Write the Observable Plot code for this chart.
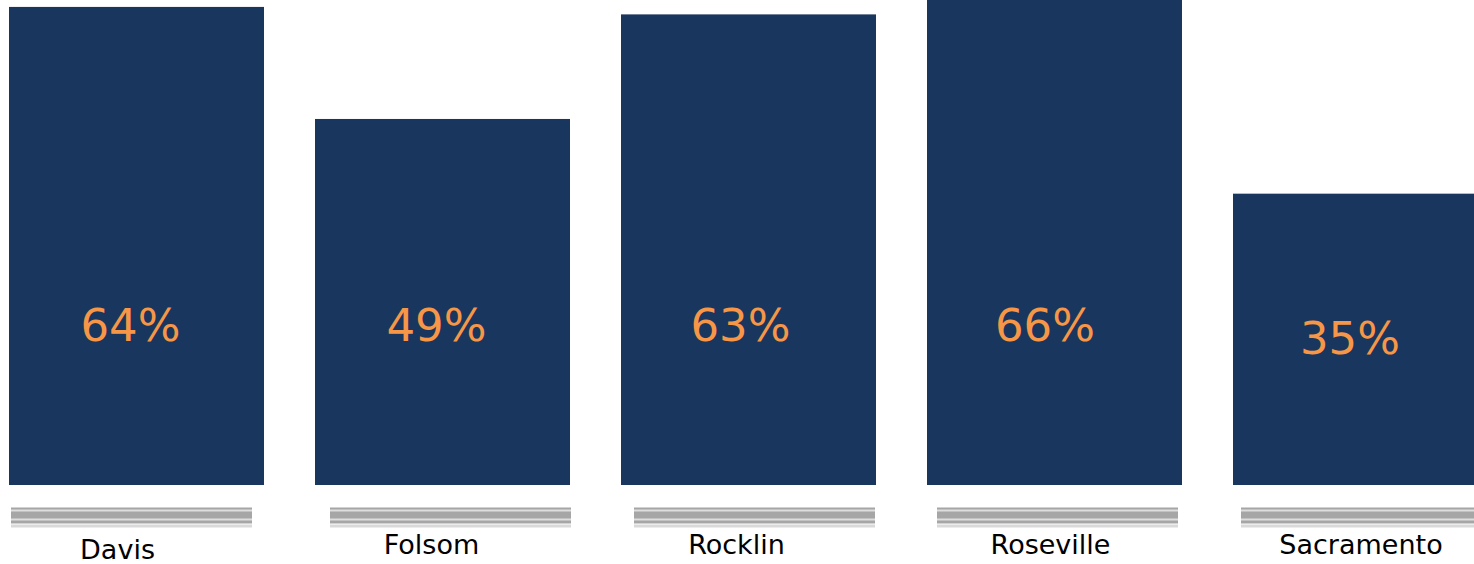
<!DOCTYPE html>
<html>
<head>
<meta charset="utf-8">
<script src="https://cdn.jsdelivr.net/npm/d3@7"></script>
<script src="https://cdn.jsdelivr.net/npm/@observablehq/plot@0.6"></script>
<style>
  html, body { margin: 0; padding: 0; background: #fff; }
  #chart svg { display: block; }
</style>
</head>
<body>
<div id="chart"></div>
<script>
// ---- data ----
const cities = ["Davis", "Folsom", "Rocklin", "Roseville", "Sacramento"];
const barValues = [64, 49, 63, 66, 39];           // bar heights (%)
const valueLabels = ["64%", "49%", "63%", "66%", "35%"]; // printed labels

const data = cities.map((city, i) => ({city, value: barValues[i], label: valueLabels[i]}));

// ---- layout nudges (style only) ----
const nudge = {
  Davis:      {stripeLeft: 2,  nameDx: -19.5, nameDy: 65, valDx: -6.5, valDy: 0},
  Folsom:     {stripeLeft: 15, nameDx: -11.5, nameDy: 60, valDx: -6.5, valDy: 0},
  Rocklin:    {stripeLeft: 13, nameDx: -12.5, nameDy: 60, valDx: -8.5, valDy: 0},
  Roseville:  {stripeLeft: 10, nameDx: -4.5,  nameDy: 60, valDx: -10,  valDy: 0},
  Sacramento: {stripeLeft: 8,  nameDx: 0,     nameDy: 60, valDx: -11,  valDy: 13}
};
const BAR_W = 255, STRIPE_W = 241;
const font = "DejaVu Sans, Verdana, sans-serif";

const marks = [
  Plot.barY(data, {x: "city", y: "value", fill: "#19375e", clip: true})
];

for (const c of cities) {
  const d = data.filter(r => r.city === c);
  const n = nudge[c];
  const inset = {insetLeft: n.stripeLeft, insetRight: BAR_W - STRIPE_W - n.stripeLeft};
  // decorative gray stripes under each bar
  marks.push(
    Plot.tickY(d, {x: "city", y: () => 0, dy: 30, stroke: "#a6a6a6", strokeWidth: 16, ...inset}),
    Plot.tickY(d, {x: "city", y: () => 0, dy: 25, stroke: "#dedede", strokeWidth: 2, ...inset}),
    Plot.tickY(d, {x: "city", y: () => 0, dy: 34, stroke: "#dedede", strokeWidth: 2, ...inset}),
    Plot.tickY(d, {x: "city", y: () => 0, dy: 40.5, stroke: "#d9d9d9", strokeWidth: 3, ...inset}),
    // value label
    Plot.text(d, {x: "city", y: () => 21.3, dx: n.valDx, dy: n.valDy, text: "label", fill: "#f79646",
      fontSize: 45, fontFamily: font, lineAnchor: "middle"}),
    // category name
    Plot.text(d, {x: "city", y: () => 0, dx: n.nameDx, dy: n.nameDy, text: "city", fill: "#000",
      fontSize: 27, fontFamily: font, lineAnchor: "middle"})
  );
}

const chart = Plot.plot({
  width: 1474,
  height: 564,
  marginTop: 0,
  marginBottom: 79,
  marginLeft: 0,
  marginRight: 0,
  x: {type: "band", domain: cities, range: [8, 1489], paddingInner: 0.168, paddingOuter: 0, axis: null},
  y: {domain: [0, 485 / 7.47], axis: null},
  style: {background: "#fff", fontFamily: font},
  marks
});
document.getElementById("chart").appendChild(chart);
</script>
</body>
</html>
